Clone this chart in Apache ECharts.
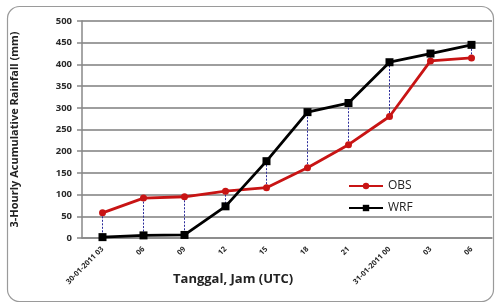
<!DOCTYPE html>
<html>
<head>
<meta charset="utf-8">
<script src="https://cdn.jsdelivr.net/npm/echarts@6/dist/echarts.min.js"></script>
<style>
html, body { margin: 0; padding: 0; background: #fff; }
#chart { width: 496px; height: 304px; }
</style>
</head>
<body>
<div id="chart"></div>
<script>
// categories (date + hour UTC)
var hours = ["30-01-2011 03", "06", "09", "12", "15", "18", "21", "31-01-2011 00", "03", "06"];
var obs = [58, 92, 95, 108, 116, 162, 215, 280, 408, 415];
var wrf = [2, 6, 7, 73, 177, 290, 311, 405, 425, 445];

var chart = echarts.init(document.getElementById("chart"));

// dotted blue connectors between OBS and WRF
var gaps = [];
for (var i = 0; i < hours.length; i++) {
  gaps.push([i, obs[i], wrf[i]]);
}

var labelFont = { fontFamily: "Open Sans", fontWeight: "bold", color: "#2a2a2a" };

var option = {
  animation: false,
  grid: { left: 82, right: 4, top: 21, bottom: 66 },
  graphic: [
    {
      type: "rect",
      shape: { x: 7.5, y: 6.5, width: 486, height: 295, r: 12 },
      style: { fill: "none", stroke: "#9a9a9a", lineWidth: 1.2 },
      z: -1
    },
    {
      type: "text",
      left: 173,
      top: 273,
      style: { text: "Tanggal, Jam (UTC)", font: "bold 13px 'Open Sans'", fill: "#222" }
    }
  ],
  legend: {
    orient: "vertical",
    left: 343,
    top: 175,
    itemWidth: 34,
    itemHeight: 8,
    itemGap: 10,
    textStyle: { fontFamily: "Open Sans", fontSize: 12, color: "#222" },
    data: ["OBS", "WRF"]
  },
  xAxis: {
    type: "category",
    data: hours,
    boundaryGap: true,
    axisLine: { lineStyle: { color: "#888", width: 1.5 } },
    axisTick: { show: false },
    axisLabel: Object.assign({ rotate: 45, fontSize: 7.5, interval: 0, margin: 10 }, labelFont)
  },
  yAxis: {
    type: "value",
    min: 0,
    max: 500,
    interval: 50,
    name: "3-Hourly Acumulative Rainfall (mm)",
    nameLocation: "middle",
    nameGap: 62,
    nameTextStyle: { fontFamily: "Open Sans", fontWeight: "bold", fontSize: 11, color: "#222" },
    axisLine: { show: true, lineStyle: { color: "#888", width: 1.5 } },
    axisTick: { show: true, length: 5, lineStyle: { color: "#888", width: 1.5 } },
    axisLabel: Object.assign({ fontSize: 9.5, margin: 10 }, labelFont),
    splitLine: { lineStyle: { color: "#7e7e7e", width: 1.5 } }
  },
  series: [
    {
      type: "custom",
      silent: true,
      data: gaps,
      z: 1,
      renderItem: function (params, api) {
        var a = api.coord([api.value(0), api.value(1)]);
        var b = api.coord([api.value(0), api.value(2)]);
        return {
          type: "line",
          shape: { x1: a[0], y1: a[1], x2: b[0], y2: b[1] },
          style: { stroke: "#2a2a9a", lineWidth: 1, lineDash: [2, 1.5] }
        };
      }
    },
    {
      name: "OBS",
      type: "line",
      data: obs,
      symbol: "circle",
      symbolSize: 7,
      z: 3,
      lineStyle: { color: "#c81414", width: 2.8 },
      itemStyle: { color: "#c81414" }
    },
    {
      name: "WRF",
      type: "line",
      data: wrf,
      symbol: "rect",
      symbolSize: 8,
      z: 4,
      lineStyle: { color: "#000", width: 2.8 },
      itemStyle: { color: "#000" }
    }
  ]
};
chart.setOption(option);
</script>
</body>
</html>
